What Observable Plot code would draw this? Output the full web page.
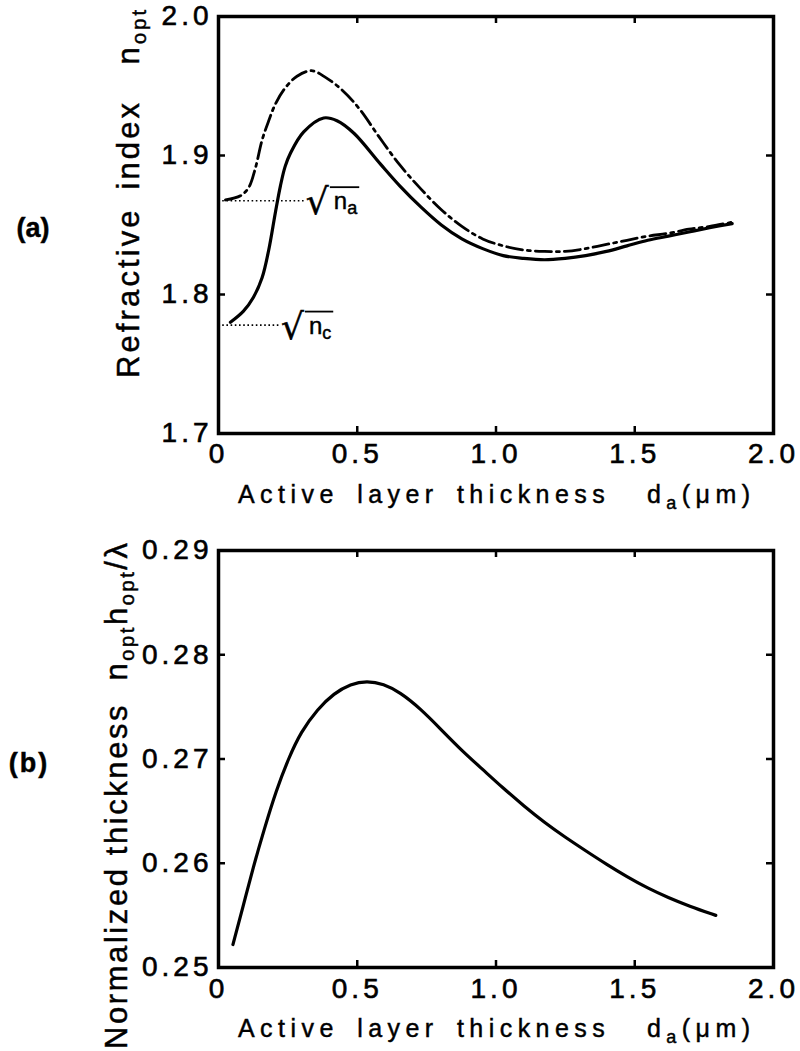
<!DOCTYPE html>
<html><head><meta charset="utf-8">
<script src="https://cdn.jsdelivr.net/npm/d3@7"></script>
<script src="https://cdn.jsdelivr.net/npm/@observablehq/plot@0.6"></script>
<style>
body{margin:0;background:#fff;}
#wrap{position:relative;width:800px;height:1051px;overflow:hidden;background:#fff}
#wrap svg{position:absolute;left:0;display:block}
#wrap svg text{stroke:#000;stroke-width:0.45px}
#wrap svg [aria-label="x-axis tick label"] text,
#wrap svg [aria-label="y-axis tick label"] text{letter-spacing:4px;stroke-width:0.6px}
</style></head>
<body><div id="wrap"></div>
<script>
// ---- data ----
const xTicks = [0, 0.5, 1.0, 1.5, 2.0];
const xTickLabels = ["0", "0.5", "1.0", "1.5", "2.0"];
const yTicksA = [1.7, 1.8, 1.9, 2.0];
const yTickLabelsA = ["1.7", "1.8", "1.9", "2.0"];
const yTicksB = [0.25, 0.26, 0.27, 0.28, 0.29];
const yTickLabelsB = ["0.25", "0.26", "0.27", "0.28", "0.29"];

// (a) solid curve
const dSolid = [0.043,0.09,0.126,0.157,0.181,0.205,0.223,0.24,0.26,0.307,0.379,0.427,0.488,0.583,0.654,0.729,0.803,0.877,0.952,1.026,1.10,1.175,1.249,1.323,1.398,1.472,1.547,1.621,1.695,1.77,1.851];
const nSolid = [1.780,1.788,1.798,1.812,1.832,1.859,1.878,1.892,1.902,1.917,1.927,1.925,1.916,1.894,1.878,1.863,1.850,1.840,1.833,1.828,1.826,1.825,1.826,1.828,1.831,1.835,1.839,1.842,1.845,1.848,1.851];
// (a) dash-dot curve
const dDash = [0.025,0.079,0.109,0.133,0.157,0.181,0.205,0.238,0.283,0.335,0.387,0.446,0.506,0.58,0.654,0.729,0.803,0.877,0.952,1.026,1.10,1.175,1.249,1.323,1.398,1.472,1.547,1.621,1.695,1.77,1.851];
const nDash = [1.868,1.871,1.877,1.891,1.911,1.925,1.937,1.948,1.957,1.961,1.956,1.947,1.934,1.913,1.893,1.876,1.861,1.849,1.840,1.835,1.832,1.831,1.831,1.833,1.836,1.839,1.842,1.844,1.847,1.849,1.852];
// (a) reference levels sqrt(n_a), sqrt(n_c)
const refNames = ["a", "c"];
const refValues = [1.8675, 1.778];
const refEnds = [0.313, 0.223];

// (b) normalized thickness
const dB = [0.052,0.089,0.126,0.164,0.208,0.253,0.297,0.357,0.416,0.476,0.535,0.595,0.654,0.729,0.803,0.877,0.952,1.026,1.100,1.175,1.249,1.323,1.398,1.472,1.547,1.621,1.695,1.792];
const tB = [0.2522,0.2559,0.2597,0.2632,0.2670,0.2701,0.2726,0.2748,0.2763,0.2772,0.2775,0.2772,0.2764,0.2748,0.2728,0.2708,0.2690,0.2672,0.2655,0.2639,0.2625,0.2612,0.2599,0.2587,0.2576,0.2567,0.2559,0.2550];

// ---- layout ----
const FONT = "'Liberation Sans', Arial, Helvetica, sans-serif";
const W = 800, ML = 218, MR = 27;
const innerW = W - ML - MR;
const TICK = 7;

const solidData = dSolid.map((d, i) => ({d, n: nSolid[i]}));
const dashData = dDash.map((d, i) => ({d, n: nDash[i]}));
const refData = refNames.map((name, i) => ({name, y: refValues[i], xEnd: refEnds[i]}));
const bData = dB.map((d, i) => ({d, t: tB[i]}));

function frameTicks(xT, yT, innerH) {
  return [
    Plot.ruleX(xT, {x: d => d, insetTop: innerH - TICK, strokeWidth: 2.5}),
    Plot.ruleX(xT, {x: d => d, insetBottom: innerH - TICK, strokeWidth: 2.5}),
    Plot.ruleY(yT, {y: d => d, insetRight: innerW - TICK, strokeWidth: 2.5}),
    Plot.ruleY(yT, {y: d => d, insetLeft: innerW - TICK, strokeWidth: 2.5})
  ];
}

const wrap = document.getElementById("wrap");

// ----- panel (a) -----
const HA = 520, MTA = 16, MBA = 87;
const innerHA = HA - MTA - MBA;
const plotA = Plot.plot({
  width: W, height: HA, marginLeft: ML, marginRight: MR, marginTop: MTA, marginBottom: MBA,
  x: {domain: [0, 2]},
  y: {domain: [1.7, 2.0]},
  style: {fontFamily: FONT, color: "#000", background: "transparent", overflow: "visible"},
  marks: [
    ...frameTicks(xTicks, yTicksA, innerHA),
    Plot.ruleY(refData, {y: "y", x1: 0, x2: "xEnd", strokeWidth: 1.6, strokeDasharray: "1.6,2.6"}),
    Plot.line(dashData, {x: "d", y: "n", curve: "catmull-rom", strokeWidth: 2.8, strokeDasharray: "16,5,3,5"}),
    Plot.line(solidData, {x: "d", y: "n", curve: "catmull-rom", strokeWidth: 3.2}),
    Plot.axisX(xTicks, {tickSize: 0, tickPadding: 10, fontSize: 28, label: null,
      tickFormat: d => xTickLabels[xTicks.indexOf(d)]}),
    Plot.axisY(yTicksA, {tickSize: 0, tickPadding: 6, fontSize: 28, label: null,
      tickFormat: d => yTickLabelsA[yTicksA.indexOf(d)]}),
    Plot.frame({strokeWidth: 3.5})
  ]
});
plotA.style.top = "0px";
wrap.appendChild(plotA);

// ----- panel (b) -----
const HB = 531, MTB = 30, MBB = 84;
const innerHB = HB - MTB - MBB;
const plotB = Plot.plot({
  width: W, height: HB, marginLeft: ML, marginRight: MR, marginTop: MTB, marginBottom: MBB,
  x: {domain: [0, 2]},
  y: {domain: [0.25, 0.29]},
  style: {fontFamily: FONT, color: "#000", background: "transparent", overflow: "visible"},
  marks: [
    ...frameTicks(xTicks, yTicksB, innerHB),
    Plot.line(bData, {x: "d", y: "t", curve: "basis", strokeWidth: 3.2}),
    Plot.axisX(xTicks, {tickSize: 0, tickPadding: 11, fontSize: 28, label: null,
      tickFormat: d => xTickLabels[xTicks.indexOf(d)]}),
    Plot.axisY(yTicksB, {tickSize: 0, tickPadding: 6, fontSize: 28, label: null,
      tickFormat: d => yTickLabelsB[yTicksB.indexOf(d)]}),
    Plot.frame({strokeWidth: 3.5})
  ]
});
plotB.style.top = "520px";
wrap.appendChild(plotB);

// ----- text annotations -----
function fit(t, target) {
  const node = t.node();
  const n = node.getNumberOfChars();
  const L = node.getComputedTextLength();
  const ls = Math.max(0, (target - L) / Math.max(1, n - 1));
  t.style("letter-spacing", ls + "px");
}

function xLabel(svg, baseY) {
  const t = svg.append("text").attr("x", 238).attr("y", baseY)
    .attr("text-anchor", "start")
    .attr("font-family", FONT).attr("font-size", 25)
    .style("white-space", "pre").style("word-spacing", "6px");
  t.append("tspan").text("Active layer thickness  d");
  t.append("tspan").attr("dy", 6).attr("font-size", 18).text("a");
  t.append("tspan").attr("dy", -6).text("(μm)");
  fit(t, 512);
}

const sA = d3.select(plotA), sB = d3.select(plotB);
xLabel(sA, 503);
xLabel(sB, 517);

// y label (a)
{
  const t = sA.append("text").attr("transform", "translate(139,378) rotate(-90)")
    .attr("text-anchor", "start")
    .attr("font-family", FONT).attr("font-size", 31)
    .style("white-space", "pre").style("word-spacing", "6px");
  t.append("tspan").text("Refractive index  n");
  t.append("tspan").attr("dy", 7).attr("font-size", 20).text("opt");
  fit(t, 368);
}
// y label (b)
{
  const t = sB.append("text").attr("transform", "translate(127,529) rotate(-90)")
    .attr("text-anchor", "start")
    .attr("font-family", FONT).attr("font-size", 31).style("white-space", "pre");
  t.append("tspan").text("Normalized thickness  n");
  t.append("tspan").attr("dy", 7).attr("font-size", 20).text("opt");
  t.append("tspan").attr("dy", -7).text("h");
  t.append("tspan").attr("dy", 7).attr("font-size", 20).text("opt");
  t.append("tspan").attr("dy", -7).text("/λ");
  fit(t, 506);
}
// panel tags
sA.append("text").attr("x", 33).attr("y", 237).attr("text-anchor", "middle")
  .attr("font-family", FONT).attr("font-size", 27).attr("font-weight", "bold").text("(a)");
sB.append("text").attr("x", 29).attr("y", 252).attr("text-anchor", "middle")
  .attr("font-family", FONT).attr("font-size", 27).attr("font-weight", "bold")
  .style("letter-spacing", "2px").text("(b)");

// sqrt labels
{
  const sx = plotA.scale("x"), sy = plotA.scale("y");
  refData.forEach(r => {
    const x0 = sx.apply(r.xEnd), y0 = sy.apply(r.y);
    const g = sA.append("g");
    g.append("text").attr("x", x0 + 1).attr("y", y0 + 14).attr("text-anchor", "start")
      .attr("font-family", "'DejaVu Sans', sans-serif").attr("font-size", 36).text("√");
    const t = g.append("text").attr("x", x0 + 29).attr("y", y0 + 9).attr("text-anchor", "start")
      .attr("font-family", FONT).attr("font-size", 24);
    t.append("tspan").text("n");
    t.append("tspan").attr("dy", 5).attr("font-size", 18).text(r.name);
    const tw = t.node().getComputedTextLength();
    g.append("line")
      .attr("x1", x0 + 25).attr("x2", x0 + 29 + tw + 2)
      .attr("y1", y0 - 13).attr("y2", y0 - 13)
      .attr("stroke", "#000").attr("stroke-width", 1.8);
  });
}
</script>
</body></html>
